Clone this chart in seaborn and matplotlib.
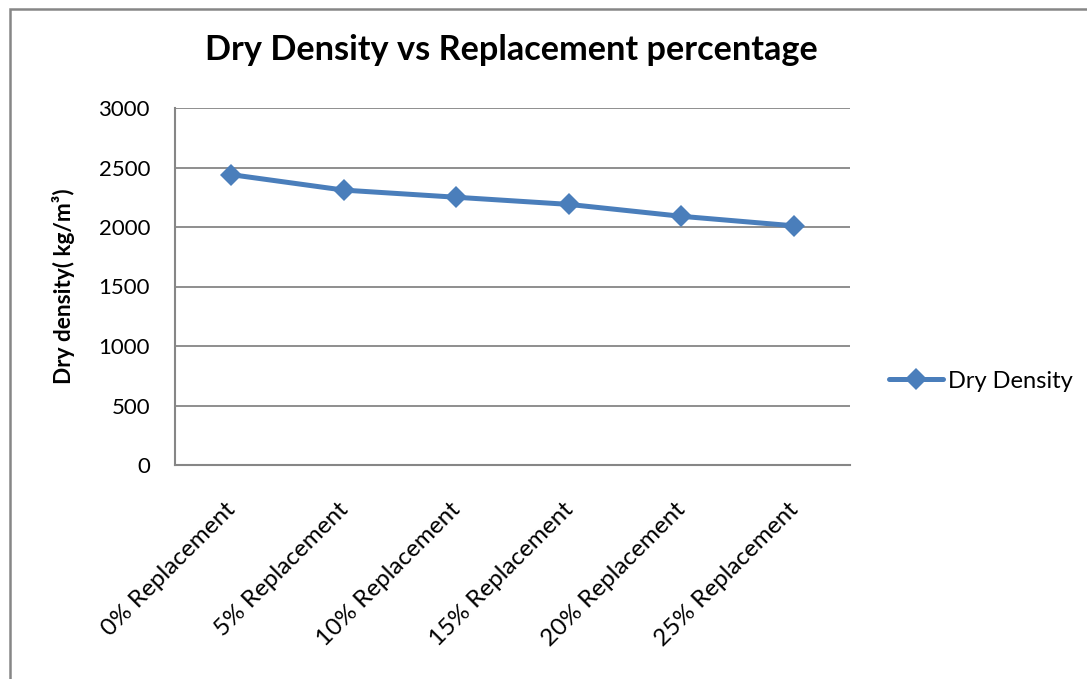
import matplotlib
matplotlib.use("Agg")
import matplotlib.pyplot as plt
import matplotlib.transforms as mtransforms
import seaborn as sns
import pandas as pd
from matplotlib.patches import Rectangle

# data
categories = ["0% Replacement", "5% Replacement", "10% Replacement",
              "15% Replacement", "20% Replacement", "25% Replacement"]
dry_density = [2440, 2310, 2250, 2190, 2090, 2010]
yticks = [0, 500, 1000, 1500, 2000, 2500, 3000]

df = pd.DataFrame({"Replacement": categories, "Dry Density": dry_density})

sns.set_theme(style="white")
plt.rcParams['font.family'] = ['Lato', 'DejaVu Sans']
plt.rcParams['text.color'] = 'black'

blue = "#4a7ebb"
grey = "#868686"

fig = plt.figure(figsize=(10.87, 6.79), dpi=100)
ax = fig.add_axes([175/1087, 1-465/679, (850-175)/1087, (465-108)/679])

sns.lineplot(data=df, x="Replacement", y="Dry Density", ax=ax, color=blue,
             linewidth=3.6, marker="D", markersize=11.5, markeredgewidth=0,
             label="Dry Density", sort=False)

ax.set_xlim(-0.5, len(categories) - 0.5)
ax.set_ylim(0, 3000)
ax.set_yticks(yticks)
ax.yaxis.grid(True, color=grey, linewidth=1.3)
ax.set_axisbelow(True)
for s in ["top", "right"]:
    ax.spines[s].set_visible(False)
for s in ["left", "bottom"]:
    ax.spines[s].set_color(grey)
    ax.spines[s].set_linewidth(1.5)
ax.tick_params(axis="y", length=0, labelsize=16, labelcolor="black", pad=18)
ax.tick_params(axis="x", length=0, labelsize=17.5, labelcolor="black", pad=30)
shift = mtransforms.ScaledTranslation(1/100, 0, fig.dpi_scale_trans)
for lab in ax.get_xticklabels():
    lab.set_rotation(45)
    lab.set_ha("right")
    lab.set_va("center")
    lab.set_rotation_mode("anchor")
    lab.set_transform(lab.get_transform() + shift)

ax.set_xlabel("")
ax.set_ylabel("Dry density( kg/m³)", fontsize=16.3, fontweight="bold",
              labelpad=17, color="black")
fig.text(511/1087, 1-50/679, "Dry Density vs Replacement percentage",
         fontsize=24.7, fontweight="bold", ha="center", va="center",
         color="black")

leg = ax.legend(loc="center left", bbox_to_anchor=(889/1087, 1-381/679),
                bbox_transform=fig.transFigure, frameon=False, fontsize=17,
                handlelength=2.3, handletextpad=0.2, borderpad=0,
                borderaxespad=0)
for t in leg.get_texts():
    t.set_color("black")

# outer chart border
fig.patches.append(Rectangle((9.5/1087, -0.1), 1.2, 1.1 - 9.5/679,
                             transform=fig.transFigure, fill=False,
                             edgecolor=grey, linewidth=1.8))

fig.savefig("out.png", dpi=100)
